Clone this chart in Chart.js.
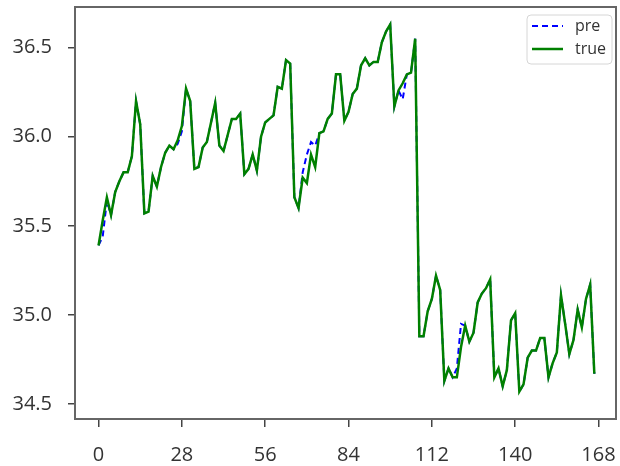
<!DOCTYPE html>
<html>
<head>
<meta charset="utf-8">
<script src="https://cdn.jsdelivr.net/npm/chart.js@4.4.1/dist/chart.umd.min.js"></script>
<style>
  html, body { margin: 0; padding: 0; background: #fff; }
</style>
</head>
<body>
<canvas id="myChart" width="620" height="466"></canvas>
<script>
// valori (un punto per passo)
const trueVals = [
  35.39, 35.53, 35.66, 35.56, 35.69, 35.75, 35.80, 35.80, 35.89, 36.20,
  36.07, 35.57, 35.58, 35.78, 35.72, 35.83, 35.91, 35.95, 35.93, 35.98,
  36.06, 36.27, 36.20, 35.82, 35.83, 35.94, 35.97, 36.08, 36.19, 35.95,
  35.92, 36.01, 36.10, 36.10, 36.13, 35.79, 35.82, 35.90, 35.81, 36.00,
  36.08, 36.10, 36.12, 36.28, 36.27, 36.43, 36.41, 35.66, 35.60, 35.77,
  35.74, 35.90, 35.83, 36.02, 36.03, 36.10, 36.13, 36.35, 36.35, 36.09,
  36.14, 36.24, 36.27, 36.40, 36.44, 36.40, 36.42, 36.42, 36.53, 36.59,
  36.63, 36.17, 36.26, 36.30, 36.35, 36.36, 36.55, 34.88, 34.88, 35.02,
  35.09, 35.22, 35.14, 34.63, 34.70, 34.65, 34.65, 34.82, 34.94, 34.85,
  34.90, 35.07, 35.12, 35.15, 35.20, 34.65, 34.70, 34.60, 34.69, 34.97,
  35.01, 34.57, 34.61, 34.76, 34.80, 34.80, 34.87, 34.87, 34.65, 34.73,
  34.79, 35.11, 34.95, 34.78, 34.86, 35.03, 34.93, 35.09, 35.17, 34.67
];

const preVals = [
  35.39, 35.44, 35.64, 35.56, 35.69, 35.75, 35.80, 35.80, 35.89, 36.20,
  36.07, 35.57, 35.58, 35.78, 35.72, 35.83, 35.91, 35.95, 35.93, 35.96,
  36.03, 36.27, 36.20, 35.82, 35.83, 35.94, 35.97, 36.08, 36.19, 35.95,
  35.92, 36.01, 36.10, 36.10, 36.13, 35.79, 35.82, 35.90, 35.81, 36.00,
  36.08, 36.10, 36.12, 36.28, 36.27, 36.43, 36.41, 35.66, 35.60, 35.80,
  35.90, 35.97, 35.95, 36.02, 36.03, 36.10, 36.13, 36.35, 36.35, 36.09,
  36.14, 36.24, 36.27, 36.40, 36.44, 36.40, 36.42, 36.42, 36.53, 36.59,
  36.63, 36.17, 36.26, 36.21, 36.35, 36.36, 36.55, 34.88, 34.88, 35.02,
  35.09, 35.22, 35.14, 34.63, 34.70, 34.65, 34.70, 34.95, 34.94, 34.85,
  34.90, 35.07, 35.12, 35.15, 35.20, 34.65, 34.70, 34.60, 34.69, 34.97,
  35.01, 34.57, 34.61, 34.76, 34.80, 34.80, 34.87, 34.87, 34.65, 34.73,
  34.79, 35.11, 34.95, 34.78, 34.86, 35.03, 34.93, 35.09, 35.17, 34.67
];

const xTickLabels = ['0', '28', '56', '84', '112', '140', '168'];
const xTickStep = 20;
const yTicks = [34.5, 35.0, 35.5, 36.0, 36.5];

const tickFont = { family: 'Open Sans', size: 20 };

// niente padding automatico delle etichette: l'area resta fissa
function noPad(scale) {
  scale.paddingTop = 0;
  scale.paddingBottom = 0;
  scale.paddingLeft = 0;
  scale.paddingRight = 0;
}

// cornice attorno all'area del grafico
const frame = {
  id: 'frame',
  afterDraw(chart) {
    const { ctx, chartArea: a } = chart;
    ctx.save();
    ctx.strokeStyle = '#666';
    ctx.lineWidth = 2;
    ctx.strokeRect(a.left, a.top, a.right - a.left, a.bottom - a.top);
    ctx.restore();
  }
};

// legenda in alto a destra dentro il grafico
const legendBox = {
  id: 'legendBox',
  afterDraw(chart) {
    const { ctx, chartArea } = chart;
    const w = 85, h = 49;
    const x = chartArea.right - w - 4;
    const y = chartArea.top + 8;
    ctx.save();
    ctx.fillStyle = 'rgba(255,255,255,0.9)';
    ctx.strokeStyle = '#d6d6d6';
    ctx.lineWidth = 1;
    ctx.beginPath();
    ctx.roundRect(x, y, w, h, 4);
    ctx.fill();
    ctx.stroke();
    chart.data.datasets.forEach(function (ds, i) {
      const ly = y + 11 + i * 23;
      ctx.beginPath();
      ctx.strokeStyle = ds.borderColor;
      ctx.lineWidth = ds.borderWidth;
      ctx.setLineDash(ds.borderDash || []);
      ctx.moveTo(x + 5, ly);
      ctx.lineTo(x + 36, ly);
      ctx.stroke();
      ctx.setLineDash([]);
      ctx.fillStyle = '#333';
      ctx.font = '16px "Open Sans"';
      ctx.textBaseline = 'middle';
      ctx.fillText(ds.label, x + 48, ly);
    });
    ctx.restore();
  }
};

const ctx = document.getElementById('myChart').getContext('2d');

const chart = new Chart(ctx, {
  type: 'line',
  data: {
    datasets: [{
      label: 'pre',
      data: preVals.map((v, i) => ({ x: i, y: v })),
      borderColor: '#0000ff',
      borderWidth: 2,
      borderDash: [6, 4],
      pointRadius: 0,
      fill: false,
      order: 2
    }, {
      label: 'true',
      data: trueVals.map((v, i) => ({ x: i, y: v })),
      borderColor: '#008000',
      borderWidth: 2.5,
      pointRadius: 0,
      fill: false,
      order: 1
    }]
  },
  options: {
    responsive: false,
    animation: false,
    layout: { padding: { top: 7, right: 4, left: 0, bottom: 0 } },
    plugins: {
      legend: { display: false },
      tooltip: { enabled: false }
    },
    scales: {
      x: {
        type: 'linear',
        min: -5.65,
        max: 124.2,
        afterBuildTicks: function (scale) {
          scale.ticks = xTickLabels.map((l, i) => ({ value: i * xTickStep }));
        },
        afterFit: function (scale) { scale.height = 47; noPad(scale); },
        ticks: {
          callback: (v, i) => xTickLabels[i],
          font: tickFont,
          color: '#333',
          padding: 16,
          maxRotation: 0,
          autoSkip: false
        },
        grid: { drawOnChartArea: false, drawTicks: true, tickLength: 8, color: '#444', lineWidth: 1.5 },
        border: { display: true, color: '#666', width: 2 }
      },
      y: {
        type: 'linear',
        min: 34.416,
        max: 36.728,
        afterBuildTicks: function (scale) {
          scale.ticks = yTicks.map(v => ({ value: v }));
        },
        afterFit: function (scale) { scale.width = 75; noPad(scale); },
        ticks: {
          callback: v => v.toFixed(1),
          font: tickFont,
          color: '#333',
          padding: 16
        },
        grid: { drawOnChartArea: false, drawTicks: true, tickLength: 7, color: '#444', lineWidth: 1.5 },
        border: { display: true, color: '#666', width: 2 }
      }
    }
  },
  plugins: [frame, legendBox]
});
</script>
</body>
</html>
